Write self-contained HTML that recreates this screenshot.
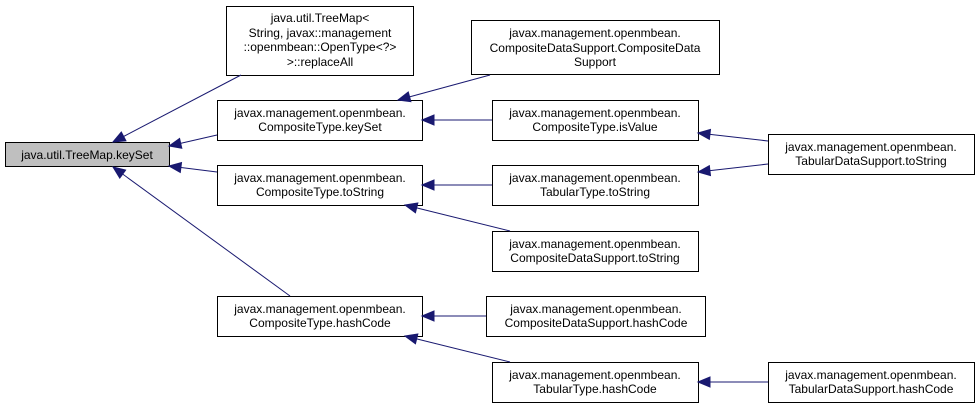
<!DOCTYPE html>
<html><head><style>
body{margin:0;background:#fff;width:979px;height:408px;overflow:hidden}
svg text{font-family:"Liberation Sans",Arial,sans-serif;font-size:12px;fill:#000}
</style></head><body>
<svg width="979" height="408" xmlns="http://www.w3.org/2000/svg">
<defs><marker id="a" markerWidth="14" markerHeight="12" refX="0" refY="5" orient="auto" markerUnits="userSpaceOnUse" overflow="visible">
<path d="M0,5 L12,0 L12,10 Z" fill="#191970" stroke="#191970"/></marker></defs>
<g stroke="#000" stroke-width="1">
<rect x="5.5" y="142.5" width="164" height="24" fill="#bfbfbf"/>
<rect x="226.5" y="6.5" width="187" height="69" fill="#fff"/>
<rect x="217.5" y="100.5" width="205" height="40" fill="#fff"/>
<rect x="217.5" y="165.5" width="205" height="40" fill="#fff"/>
<rect x="217.5" y="296.5" width="205" height="40" fill="#fff"/>
<rect x="471.5" y="20.5" width="248" height="54" fill="#fff"/>
<rect x="492.5" y="100.5" width="206" height="40" fill="#fff"/>
<rect x="492.5" y="165.5" width="206" height="40" fill="#fff"/>
<rect x="492.5" y="231.5" width="206" height="40" fill="#fff"/>
<rect x="486.5" y="296.5" width="219" height="40" fill="#fff"/>
<rect x="492.5" y="362.5" width="206" height="40" fill="#fff"/>
<rect x="768.5" y="134.5" width="206" height="40" fill="#fff"/>
<rect x="768.5" y="362.5" width="206" height="40" fill="#fff"/>
</g>
<g stroke="#191970" stroke-width="1" fill="none">
<line x1="113" y1="142" x2="241" y2="75" marker-start="url(#a)"/>
<line x1="169" y1="146" x2="217" y2="135" marker-start="url(#a)"/>
<line x1="169" y1="166" x2="217" y2="172" marker-start="url(#a)"/>
<line x1="113" y1="167" x2="290" y2="296" marker-start="url(#a)"/>
<line x1="398" y1="100" x2="490" y2="75" marker-start="url(#a)"/>
<line x1="422" y1="120" x2="492" y2="120" marker-start="url(#a)"/>
<line x1="422" y1="185" x2="492" y2="185" marker-start="url(#a)"/>
<line x1="405" y1="205" x2="510" y2="231" marker-start="url(#a)"/>
<line x1="422" y1="316" x2="486" y2="316" marker-start="url(#a)"/>
<line x1="405" y1="336" x2="510" y2="362" marker-start="url(#a)"/>
<line x1="698" y1="133" x2="768" y2="141" marker-start="url(#a)"/>
<line x1="698" y1="172" x2="768" y2="164" marker-start="url(#a)"/>
<line x1="698" y1="382" x2="768" y2="382" marker-start="url(#a)"/>
</g>
<g text-anchor="middle">
<text x="87" y="159">java.util.TreeMap.keySet</text>
<text x="320" y="22">java.util.TreeMap&lt;</text>
<text x="320" y="37">String, javax::management</text>
<text x="320" y="51">::openmbean::OpenType&lt;?&gt;</text>
<text x="320" y="66">&gt;::replaceAll</text>
<text x="320" y="117">javax.management.openmbean.</text>
<text x="320" y="131">CompositeType.keySet</text>
<text x="320" y="182">javax.management.openmbean.</text>
<text x="320" y="196">CompositeType.toString</text>
<text x="320" y="313">javax.management.openmbean.</text>
<text x="320" y="327">CompositeType.hashCode</text>
<text x="595" y="37">javax.management.openmbean.</text>
<text x="595" y="52">CompositeDataSupport.CompositeData</text>
<text x="595" y="66">Support</text>
<text x="595" y="117">javax.management.openmbean.</text>
<text x="595" y="131">CompositeType.isValue</text>
<text x="595" y="182">javax.management.openmbean.</text>
<text x="595" y="196">TabularType.toString</text>
<text x="595" y="248">javax.management.openmbean.</text>
<text x="595" y="262">CompositeDataSupport.toString</text>
<text x="596" y="313">javax.management.openmbean.</text>
<text x="596" y="327">CompositeDataSupport.hashCode</text>
<text x="595" y="379">javax.management.openmbean.</text>
<text x="595" y="393">TabularType.hashCode</text>
<text x="871" y="151">javax.management.openmbean.</text>
<text x="871" y="165">TabularDataSupport.toString</text>
<text x="871" y="379">javax.management.openmbean.</text>
<text x="871" y="393">TabularDataSupport.hashCode</text>
</g>
</svg>
</body></html>
